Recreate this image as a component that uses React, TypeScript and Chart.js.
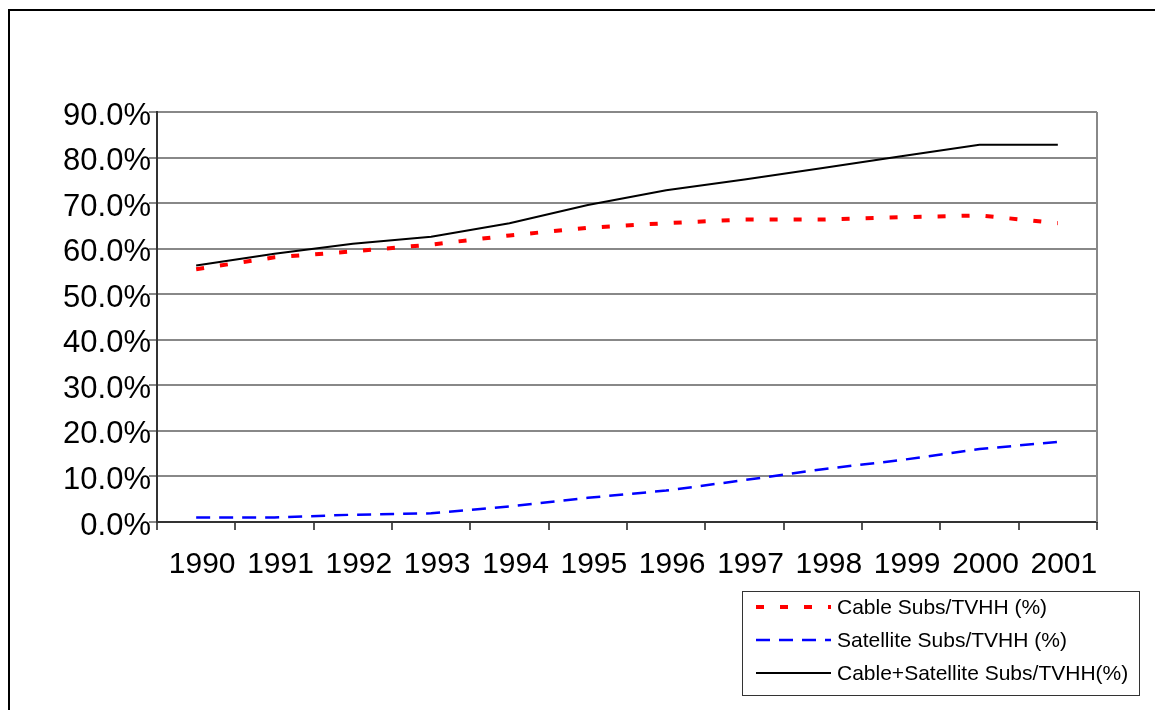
import React, { useEffect, useRef } from "react";
import { Chart, registerables } from "chart.js";

Chart.register(...registerables);

const years = ["1990", "1991", "1992", "1993", "1994", "1995", "1996", "1997", "1998", "1999", "2000", "2001"];
const cable = [55.5, 58.1, 59.4, 60.9, 62.9, 64.6, 65.6, 66.4, 66.4, 66.9, 67.3, 65.6];
const satellite = [1.0, 1.0, 1.6, 1.9, 3.4, 5.3, 6.9, 9.2, 11.6, 13.6, 16.0, 17.6];
const combined = [56.3, 58.9, 61.1, 62.6, 65.6, 69.6, 72.8, 75.2, 77.7, 80.3, 82.8, 82.8];
const seriesLabels = ["Cable Subs/TVHH (%)", "Satellite Subs/TVHH (%)", "Cable+Satellite Subs/TVHH(%)"];

const FONT = '"Liberation Sans", Arial, sans-serif';

const framePlugin = {
  id: "frameAndLegend",
  beforeDraw(chart: any) {
    const ctx = chart.ctx;
    ctx.save();
    ctx.fillStyle = "#ffffff";
    ctx.fillRect(0, 0, chart.width, chart.height);
    ctx.strokeStyle = "#000000";
    ctx.lineWidth = 2;
    ctx.strokeRect(9, 10, 1300, 900);
    ctx.restore();
  },
  afterDatasetsDraw(chart: any) {
    const ctx = chart.ctx;
    const area = chart.chartArea;
    ctx.save();
    // right border of plot area
    ctx.strokeStyle = "#888888";
    ctx.lineWidth = 2;
    ctx.beginPath();
    ctx.moveTo(area.right, area.top);
    ctx.lineTo(area.right, area.bottom);
    ctx.stroke();

    // legend
    const bx = 742.5, by = 591.5, bw = 397, bh = 104;
    ctx.fillStyle = "#ffffff";
    ctx.fillRect(bx, by, bw, bh);
    ctx.strokeStyle = "#333333";
    ctx.lineWidth = 1;
    ctx.strokeRect(bx, by, bw, bh);
    const rows = [607, 640, 673];
    chart.data.datasets.forEach((ds: any, i: number) => {
      const y = rows[i];
      ctx.save();
      ctx.strokeStyle = ds.borderColor;
      ctx.lineWidth = ds.borderWidth;
      ctx.setLineDash(ds.borderDash || []);
      ctx.beginPath();
      ctx.moveTo(756, y);
      ctx.lineTo(831, y);
      ctx.stroke();
      ctx.restore();
      ctx.fillStyle = "#000000";
      ctx.font = "21px " + FONT;
      ctx.textBaseline = "middle";
      ctx.textAlign = "left";
      ctx.fillText(ds.label, 837, y + 1);
    });
    ctx.restore();
  },
};

export default function App() {
  const ref = useRef<HTMLCanvasElement | null>(null);
  useEffect(() => {
    if (!ref.current) return;
    const chart = new Chart(ref.current, {
      type: "line",
      data: {
        labels: years,
        datasets: [
          {
            label: seriesLabels[0],
            data: cable,
            borderColor: "#ff0000",
            borderWidth: 4,
            borderDash: [8, 16],
            pointRadius: 0,
            tension: 0,
            fill: false,
          },
          {
            label: seriesLabels[1],
            data: satellite,
            borderColor: "#0000ff",
            borderWidth: 2.5,
            borderDash: [14, 9],
            pointRadius: 0,
            tension: 0,
            fill: false,
          },
          {
            label: seriesLabels[2],
            data: combined,
            borderColor: "#000000",
            borderWidth: 2,
            pointRadius: 0,
            tension: 0,
            fill: false,
          },
        ],
      },
      options: {
        responsive: false,
        animation: false,
        layout: { padding: { left: 0, top: 112, right: 58, bottom: 0 } },
        plugins: {
          legend: { display: false },
          tooltip: { enabled: false },
          title: { display: false },
        },
        scales: {
          x: {
            type: "category",
            offset: true,
            grid: {
              offset: true,
              drawOnChartArea: false,
              drawTicks: true,
              tickLength: 8,
              color: "#555555",
              lineWidth: 2,
            },
            border: { display: true, color: "#333333", width: 2 },
            ticks: {
              color: "#000000",
              font: { family: FONT, size: 30 },
              padding: 17,
              labelOffset: 6,
              maxRotation: 0,
              autoSkip: false,
            },
            afterFit(scale: any) {
              scale.height = 188;
            },
          },
          y: {
            min: 0,
            max: 90,
            ticks: {
              stepSize: 10,
              color: "#000000",
              font: { family: FONT, size: 31 },
              padding: -2,
              labelOffset: 4,
              callback: (v: any) => Number(v).toFixed(1) + "%",
            },
            grid: {
              color: "#888888",
              lineWidth: 2,
              tickLength: 8,
              drawTicks: true,
            },
            border: { display: true, color: "#333333", width: 2 },
            afterFit(scale: any) {
              scale.width = 157;
            },
          },
        },
      },
      plugins: [framePlugin],
    });
    return () => chart.destroy();
  }, []);

  return (
    <div style={{ position: "fixed", left: 0, top: 0, width: 1155, height: 710 }}>
      <canvas ref={ref} width={1155} height={710} style={{ width: 1155, height: 710, display: "block" }} />
    </div>
  );
}
